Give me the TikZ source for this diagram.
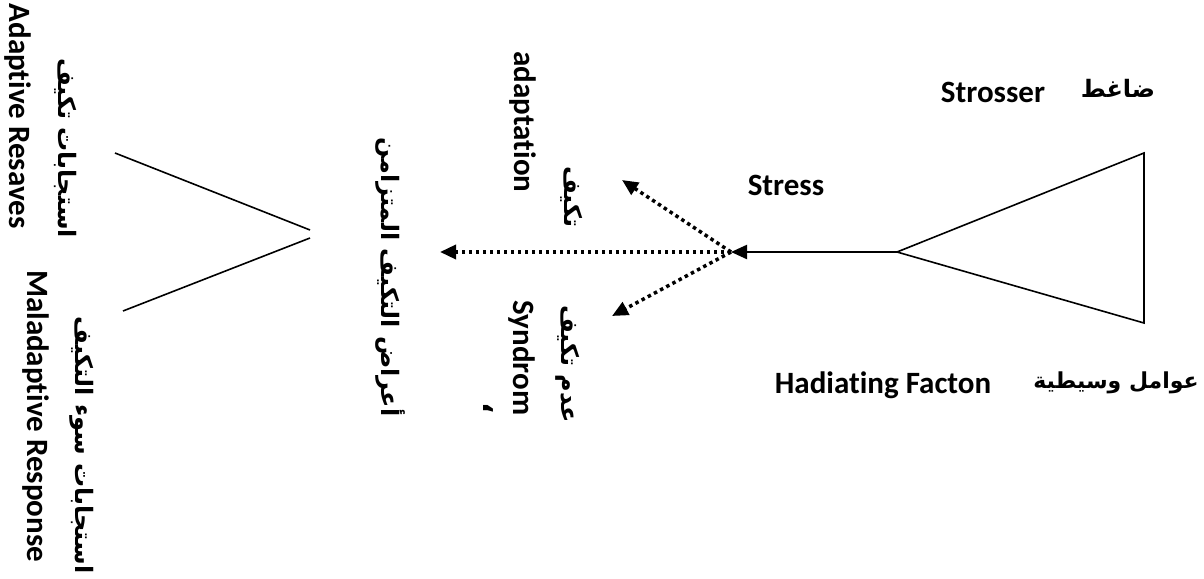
\documentclass[tikz,border=0pt]{standalone}
\usepackage{fontspec}
\setmainfont{Carlito}[Ligatures=NoCommon]
\newfontfamily\arabicfont[Script=Arabic]{DejaVu Sans}
\TeXXeTstate=1
\usetikzlibrary{arrows.meta}

\begin{document}
\begin{tikzpicture}[x=1pt,y=-1pt,
    lbl/.style={font=\fontsize{31}{31}\selectfont\bfseries,inner sep=0pt},
    arlbl/.style={font=\fontsize{24}{24}\selectfont\arabicfont\bfseries,inner sep=0pt},
    vert/.style={rotate=-90},
    tip/.style={-{Triangle[length=16pt,width=14pt]}},
    dots/.style={tip,line width=3.5pt,dash pattern=on 3.5pt off 3.5pt}]
  \useasboundingbox (0,0) rectangle (1204,578);
  \coordinate (apex) at (897,252);
  \coordinate (tr) at (1144,153);
  \coordinate (br) at (1144,323);
  \coordinate (hub) at (731,252);
  \coordinate (up) at (622,180);
  \coordinate (mid) at (440,252);
  \coordinate (low) at (612,316);
  \coordinate (lt) at (115,153);
  \coordinate (ltip) at (310,230);
  \coordinate (lbtip) at (310,238);
  \coordinate (lb) at (123,311);
  \draw[line width=1.6pt] (tr) -- (apex) -- (br) -- cycle;
  \draw[line width=1.6pt] (lt) -- (ltip) (lbtip) -- (lb);
  \draw[tip,line width=2.2pt] (apex) -- (hub);
  \path[dots]
    (hub) edge (up)
          edge (mid)
          edge (low);
  % labels
  \node[arlbl] (dagit) at (1118,88) {\beginR ضاغط\endR};
  \node[lbl] (strosser) at (993,92) {Strosser};
  \node[lbl] (stress) at (786,185) {Stress};
  \node[lbl] (hadiating) at (883,385) {Hadiating Facton};
  \node[arlbl,font=\fontsize{22}{22}\selectfont\arabicfont\bfseries] (awamil) at (1116,383) {\beginR عوامل وسيطية\endR};
  \node[lbl,vert] (adapt) at (523,122) {adaptation};
  \node[arlbl,vert] (takayyuf) at (572,197) {\beginR تكيف\endR};
  \node[arlbl,vert] (aarad) at (390,277) {\beginR أعراض التكيف المتزامن\endR};
  \node[lbl,vert] (syndrom) at (522,358) {Syndrom};
  \node[arlbl,vert] (adam) at (568,364) {\beginR عدم تكيف\endR};
  \node[arlbl,vert,font=\fontsize{30}{30}\selectfont\arabicfont\bfseries] (mark) at (488,408) {\beginR ،\endR};
  \node[lbl,vert] (adaptive) at (18,116) {Adaptive Resaves};
  \node[arlbl,vert] (istajabat) at (66,148) {\beginR استجابات تكيف\endR};
  \node[lbl,vert] (maladaptive) at (36,416) {Maladaptive Response};
  \node[arlbl,vert] (istajabatsu) at (82,445) {\beginR استجابات سوء التكيف\endR};
\end{tikzpicture}
\end{document}
